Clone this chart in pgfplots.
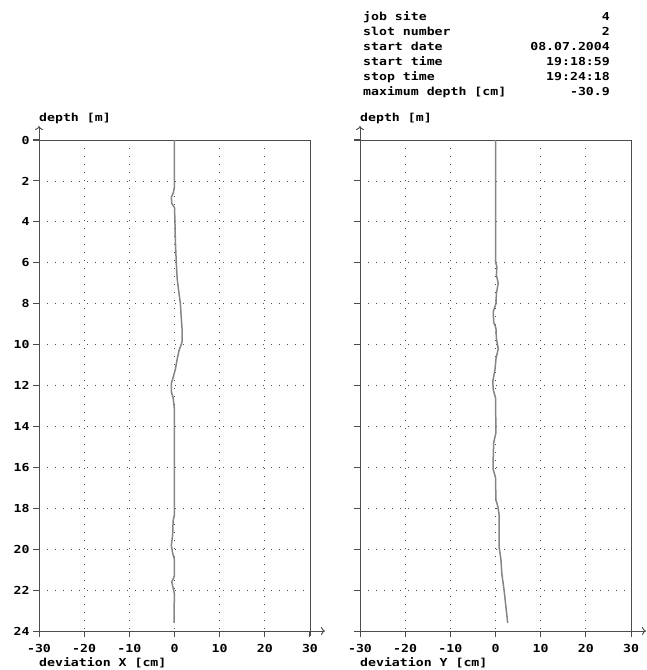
\documentclass[border=0pt]{standalone}
\usepackage{pgfplots}
\pgfplotsset{compat=1.18}
\usetikzlibrary{arrows.meta}
\usepackage{fontspec}
\newfontfamily\mono[FakeStretch=1.2]{DejaVu Sans Mono}
\newcommand\hfont{\fontsize{11}{15}\selectfont\mono\bfseries}
\definecolor{frame}{gray}{0.3}
\definecolor{curve}{gray}{0.52}
\pgfplotsset{
  boreplot/.style={
    scale only axis, width=271pt, height=491pt,
    xmin=-30, xmax=30, ymin=0, ymax=24, y dir=reverse,
    xtick={-30,-20,...,30}, ytick={0,2,...,24},
    xmajorgrids, ymajorgrids,
    major grid style={frame, line width=0.8pt, dash pattern=on 0.8pt off 7.2pt},
    axis line style={frame, line width=0.9pt},
    tick style={solid, draw=frame, line width=1pt},
    tick align=outside, major tick length=6pt,
    xtick pos=left, ytick pos=left,
    tick label style={font=\hfont},
    xticklabel style={yshift=-4pt},
    /pgf/number format/assume math mode=true,
    clip=false,
    every axis y label/.style={at={(rel axis cs:0,1)}, anchor=base west, inner sep=0pt, yshift=19pt, font=\hfont},
    every axis x label/.style={at={(rel axis cs:0,0)}, anchor=base west, inner sep=0pt, yshift=-35pt, font=\hfont},
  },
  frameextras/.style={
    after end axis/.code={
      \draw[frame, line width=0.9pt, -{To[length=4pt,width=8pt]}] (rel axis cs:0,1) -- ([yshift=14pt]rel axis cs:0,1);
      \draw[frame, line width=0.9pt, -{To[length=4pt,width=8pt]}] (rel axis cs:1,0) -- ([xshift=15pt]rel axis cs:1,0);
    }
  }
}
\begin{document}
\begin{tikzpicture}[x=1pt,y=1pt]
\useasboundingbox (0,0) rectangle (647,670);
\begin{axis}[boreplot, frameextras, at={(39pt,39pt)}, anchor=south west,
  ylabel={depth [m]}, xlabel={deviation X [cm]}]
\addplot[curve, line width=1.5pt] coordinates {
(0,0) (0,2.0) (0,2.3) (-0.3,2.6) (-0.7,2.8) (-0.6,3.1) (0,3.3) (0.1,4) (0.2,5) (0.4,6)
(0.6,6.8) (1.0,7.5) (1.3,8.0) (1.5,8.7) (1.7,9.3) (1.7,9.85) (1.0,10.3) (0.6,10.7)
(0.2,11.2) (-0.3,11.6) (-0.7,11.9) (-0.7,12.3) (-0.3,12.6) (0,13.2) (0,18.3) (-0.3,18.6)
(-0.4,19.3) (-0.7,19.8) (-0.4,20.2) (0,20.5) (0,21.3) (-0.6,21.6) (0,22.2) (-0.1,23.0) (-0.1,23.6)
};
\end{axis}
\begin{axis}[boreplot, frameextras, at={(360pt,39pt)}, anchor=south west, yticklabels={},
  ylabel={depth [m]}, xlabel={deviation Y [cm]}]
\addplot[curve, line width=1.5pt] coordinates {
(0,0) (0,5.95) (0.3,6.2) (0.2,6.6) (0.6,7.0) (0.2,7.5) (0.1,8.0) (-0.5,8.4) (-0.4,8.9)
(0.1,9.2) (0.2,9.7) (0.6,10.2) (0.1,10.7) (-0.1,11.2) (-0.6,11.8) (-0.5,12.2) (0,12.6)
(0.1,14.3) (-0.4,14.8) (-0.5,15.5) (-0.5,16.1) (0,16.5) (0.1,17.6) (0.5,17.9) (0.8,18.3)
(0.8,19.9) (1.2,20.5) (1.4,21.2) (1.9,22.0) (2.7,23.6)
};
\end{axis}
% outward axis ticks
\foreach \ox in {39,360} {
  \foreach \k in {0,...,12} {
    \draw[frame, line width=1pt] ({\ox-6}, {530-\k*40.9167}) -- (\ox, {530-\k*40.9167});
  }
  \foreach \k in {0,...,6} {
    \draw[frame, line width=1pt] ({\ox+\k*45.1667}, 39) -- ({\ox+\k*45.1667}, 34);
  }
}
\begin{scope}[font=\hfont]
\foreach \k/\v [count=\i from 0] in {job site/4, slot number/2, start date/08.07.2004,
    start time/19:18:59, stop time/19:24:18, maximum depth [cm]/-30.9} {
  \node[anchor=base west, inner sep=0pt] at (363, 649.3-15*\i) {\k};
  \node[anchor=base east, inner sep=0pt] at (610, 649.3-15*\i) {\v};
}
\end{scope}
\end{tikzpicture}
\end{document}
